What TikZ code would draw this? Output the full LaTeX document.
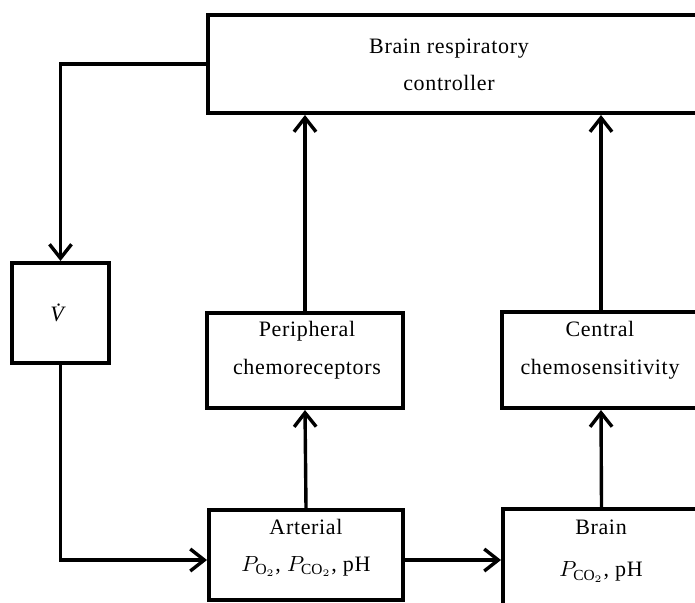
\documentclass[tikz,border=0pt]{standalone}
\usepackage{fontspec}
\setmainfont{Liberation Serif}
\newfontfamily\figfont{Liberation Serif}[LetterSpace=3]
\usetikzlibrary{arrows.meta}

\begin{document}
\begin{tikzpicture}[x=0.5pt,y=-0.5pt,
    blk/.style={draw, line width=2pt, inner sep=0pt},
    txt/.style={font=\figfont\fontsize{11}{13.2}\selectfont, align=center, inner sep=0pt},
    arr/.style={line width=1.7pt, -{Straight Barb[length=7pt,width=11pt]}},
    ln/.style={line width=1.7pt}]
        \clip (0,0) rectangle (695,602);
        % boxes
        \node[blk, minimum width=246pt, minimum height=49pt] (ctrl) at (454,64) {};
        \node[blk, txt, minimum width=48.5pt, minimum height=50pt] (vdot) at (60.5,313) {\textit{V\char"0307}};
        \node[blk, minimum width=98pt, minimum height=47.5pt] (periph) at (305,360.5) {};
        \node[blk, minimum width=99pt, minimum height=48pt] (central) at (601,360) {};
        \node[blk, minimum width=97pt, minimum height=45pt] (art) at (306,555) {};
        \node[blk, minimum width=98.5pt, minimum height=48pt] (brain) at (601.5,557) {};
        % labels
        \node[txt] (ctrl-t) at (449,65) {Brain respiratory\\[5pt]controller};
        \node[txt] (periph-t) at (307,350) {Peripheral\\[6pt]chemoreceptors};
        \node[txt] (central-t) at (600,350) {Central\\[6pt]chemosensitivity};
        \node[txt] (art-t) at (306,548) {Arterial\\[5pt]$P_{\mathrm{O}_2}$, $P_{\mathrm{CO}_2}$, pH};
        \node[txt] (brain-t) at (601,551) {Brain\\[8pt]$P_{\mathrm{CO}_2}$, pH};
        % connectors
        \draw[arr] (ctrl.west) -| (vdot.north);
        \draw[arr] (vdot.south) |- ([yshift=-2.5pt]art.west);
        \draw[arr] ([yshift=-2.5pt]art.east) -- ([yshift=-2.5pt]art.east -| brain.west);
        \draw[arr] (art.north) -- (periph.south);
        \draw[arr] (periph.north) -- (periph.north |- ctrl.south);
        \draw[arr] (brain.north) -- (central.south);
        \draw[arr] (central.north) -- (central.north |- ctrl.south);
    \end{tikzpicture}
\end{document}
